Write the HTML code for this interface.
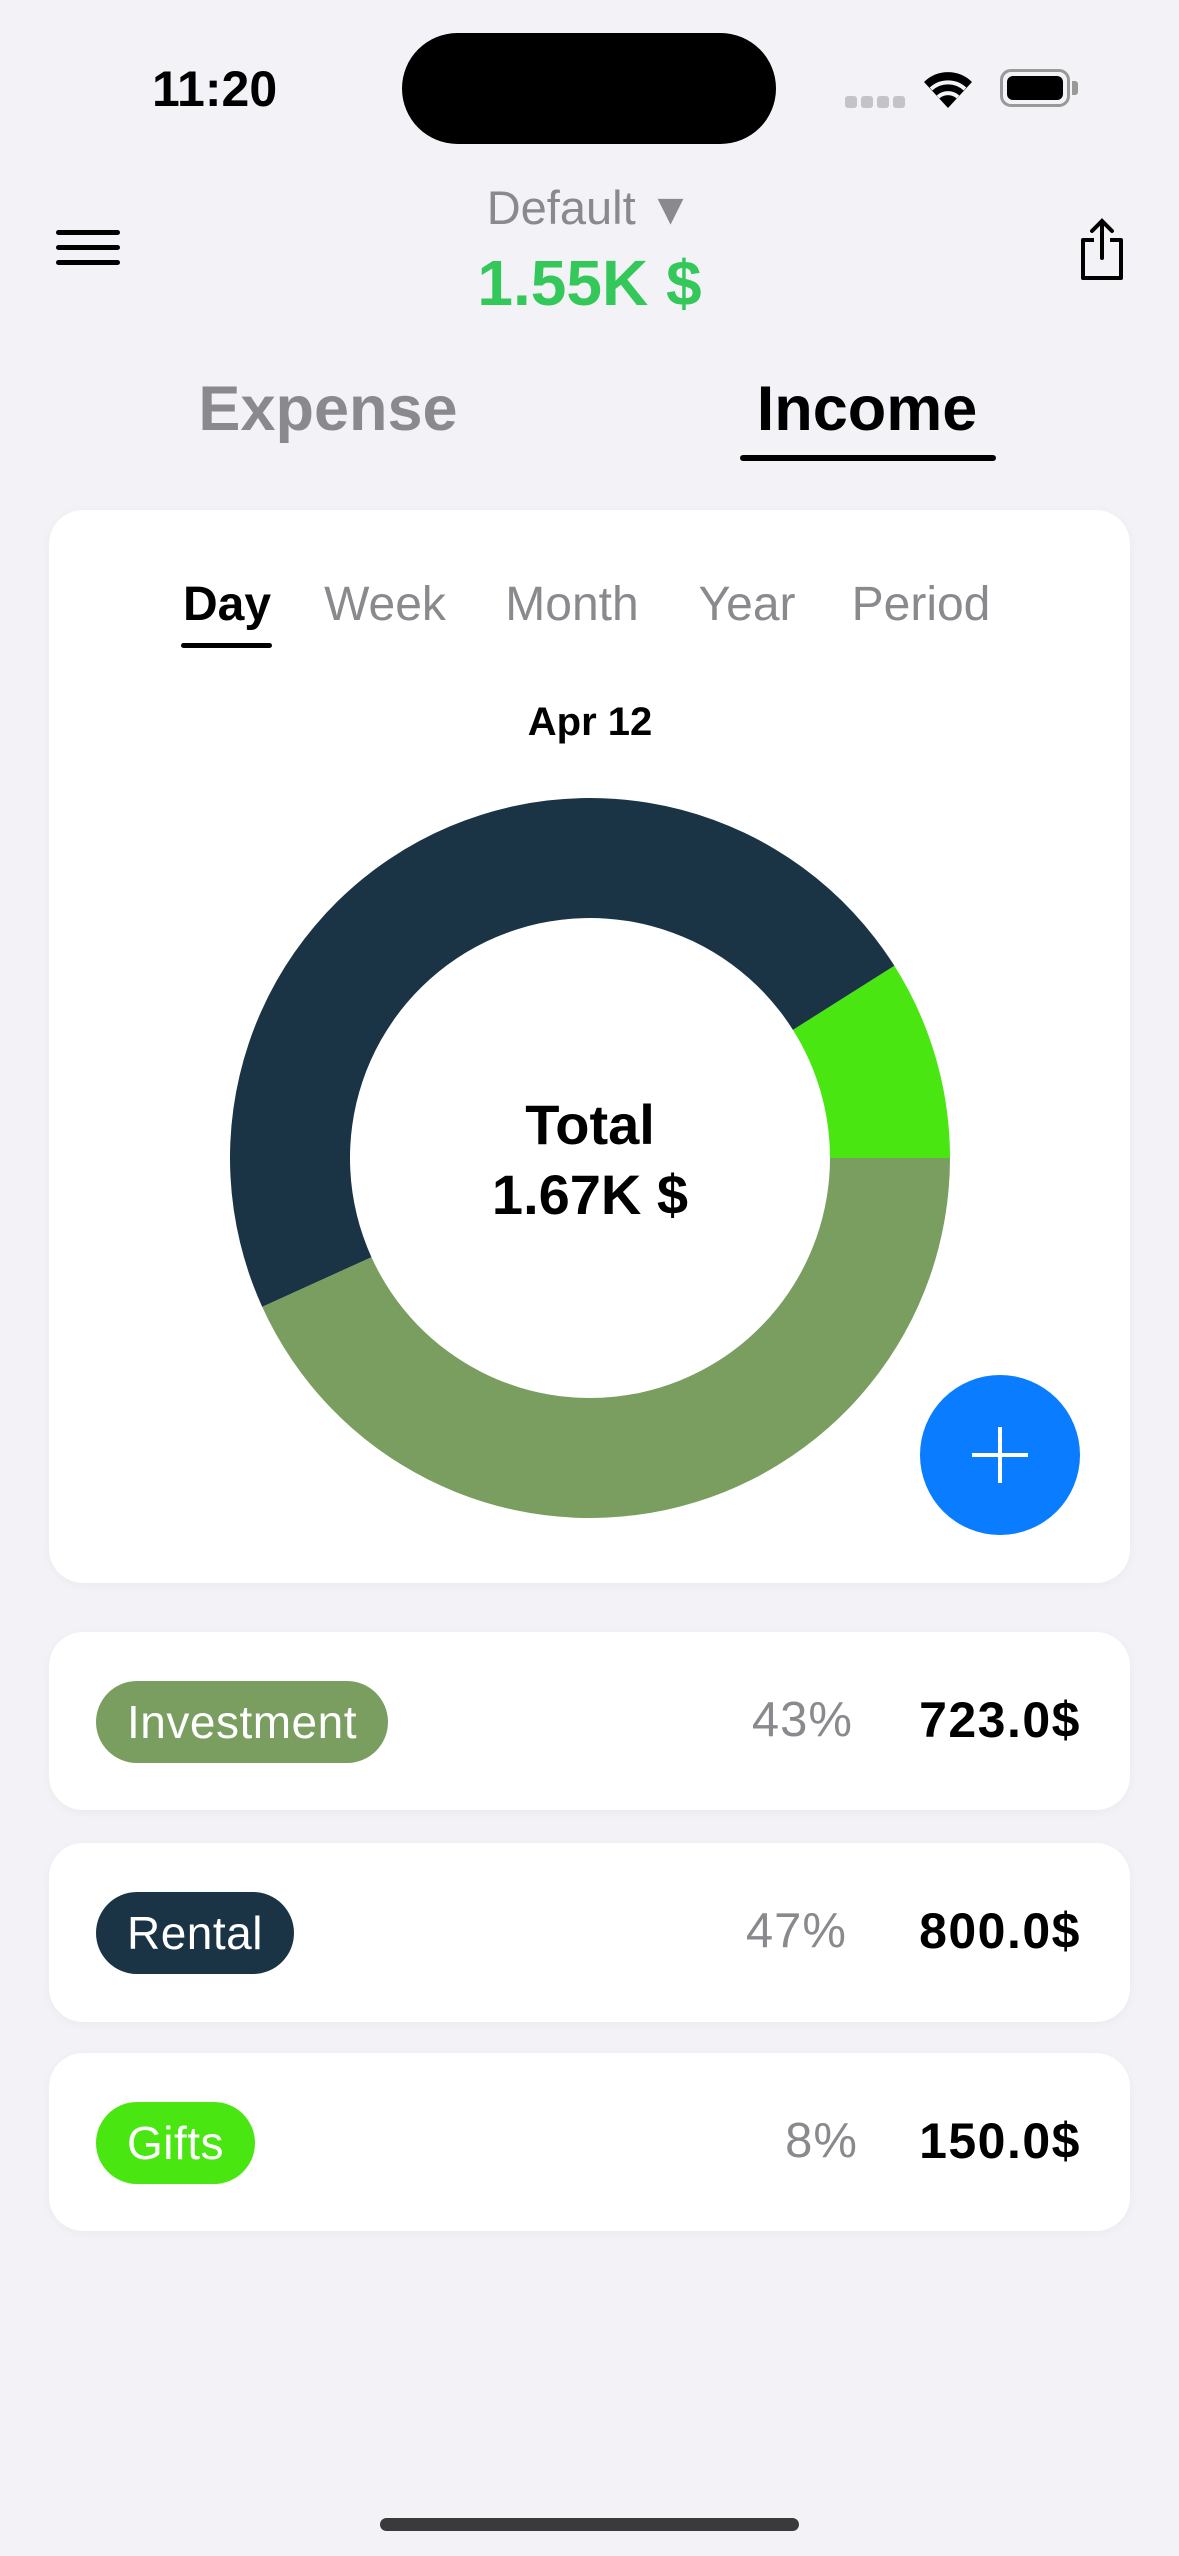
<!DOCTYPE html>
<html><head><meta charset="utf-8"><style>
*{box-sizing:border-box;margin:0;padding:0}
body{width:1179px;height:2556px;background:#f2f2f7;font-family:"Liberation Sans",sans-serif;position:relative;overflow:hidden}
.abs{position:absolute}
.card{position:absolute;left:49px;width:1081px;background:#fff;border-radius:34px;box-shadow:0 2px 10px rgba(0,0,0,0.04)}
.tab{position:absolute;top:577px;font-size:48px;color:#8a8a8e;transform:translateX(-50%);white-space:nowrap}
.pill{position:absolute;left:47px;top:49px;height:82px;border-radius:41px;color:#fff;font-size:46px;line-height:82px;padding:0 31px;letter-spacing:0.5px}
.pct{position:absolute;right:277px;top:60px;font-size:49px;color:#8a8a8e;letter-spacing:1px}
.amt{position:absolute;right:49px;top:59px;font-size:50px;font-weight:bold;color:#000;letter-spacing:1.5px}
</style></head><body>
<div class="abs" style="left:152px;top:60px;font-size:50px;font-weight:bold">11:20</div>
<div class="abs" style="left:402px;top:33px;width:374px;height:111px;background:#000;border-radius:56px"></div>
<div class="abs" style="left:845px;top:96px;width:60px;height:12px;display:flex;gap:4px"><i style="flex:1;background:#c4c4c8;border-radius:3px"></i><i style="flex:1;background:#c4c4c8;border-radius:3px"></i><i style="flex:1;background:#c4c4c8;border-radius:3px"></i><i style="flex:1;background:#c4c4c8;border-radius:3px"></i></div>
<svg class="abs" style="left:922px;top:68px" width="52" height="40" viewBox="0 0 52 40"><path d="M26 40 L2 14 A34 34 0 0 1 50 14 Z" fill="#000"/><path d="M9 21 A25 25 0 0 1 43 21" stroke="#f2f2f7" stroke-width="4" fill="none"/><path d="M16 29 A15 15 0 0 1 36 29" stroke="#f2f2f7" stroke-width="4" fill="none"/></svg>
<div class="abs" style="left:1000px;top:69px;width:70px;height:38px;border:3px solid #999;border-radius:11px;padding:4px"><div style="width:100%;height:100%;background:#000;border-radius:6px"></div></div>
<div class="abs" style="left:1072px;top:81px;width:6px;height:14px;background:#999;border-radius:0 3px 3px 0"></div>

<div class="abs" style="left:56px;top:230px;width:64px;height:36px">
<div style="height:5px;background:#000;border-radius:3px"></div><div style="height:5px;background:#000;border-radius:3px;margin-top:10px"></div><div style="height:5px;background:#000;border-radius:3px;margin-top:10px"></div></div>
<div class="abs" style="left:0;width:1179px;top:180px;text-align:center;font-size:47px;color:#8a8a8e">Default <span style="font-size:44px">▼</span></div>
<div class="abs" style="left:0;width:1179px;top:246px;text-align:center;font-size:64px;font-weight:bold;color:#34c759">1.55K $</div>
<svg class="abs" style="left:1077px;top:218px" width="50" height="62" viewBox="0 0 50 62"><path d="M17 22 H6 V60 H44 V22 H33" stroke="#000" stroke-width="4" fill="none" stroke-linejoin="round"/><path d="M25 40 V4 M15 13 L25 3 L35 13" stroke="#000" stroke-width="4" fill="none" stroke-linecap="round"/></svg>

<div class="abs" style="left:328px;top:373px;transform:translateX(-50%);font-size:63px;font-weight:bold;color:#8a8a8e">Expense</div>
<div class="abs" style="left:867px;top:373px;transform:translateX(-50%);font-size:63px;font-weight:bold;color:#000">Income</div>
<div class="abs" style="left:740px;top:455px;width:256px;height:6px;background:#000;border-radius:3px"></div>

<div class="card" style="top:510px;height:1073px"></div>
<div class="tab" style="left:227px;color:#000;font-weight:bold">Day</div>
<div class="abs" style="left:181px;top:643px;width:91px;height:5px;background:#000;border-radius:3px"></div>
<div class="tab" style="left:385px">Week</div>
<div class="tab" style="left:572px">Month</div>
<div class="tab" style="left:747px">Year</div>
<div class="tab" style="left:921px">Period</div>
<div class="abs" style="left:590px;top:700px;transform:translateX(-50%);font-size:40px;font-weight:bold">Apr 12</div>

<svg id="donut" class="abs" style="left:0;top:0" width="1179" height="1600"></svg>
<div class="abs" style="left:390px;width:400px;top:1090px;text-align:center;font-size:56px;font-weight:bold;line-height:70px">Total<br>1.67K $</div>

<div class="abs" style="left:920px;top:1375px;width:160px;height:160px;border-radius:50%;background:#0a7cff">
<div style="position:absolute;left:52px;top:78px;width:56px;height:4px;background:#fff"></div><div style="position:absolute;left:78px;top:52px;width:4px;height:56px;background:#fff"></div></div>

<div class="card" style="top:1632px;height:178px">
<div class="pill" style="background:#7a9e5f">Investment</div>
<div class="pct">43%</div>
<div class="amt">723.0$</div></div>
<div class="card" style="top:1843px;height:179px">
<div class="pill" style="background:#1b3445">Rental</div>
<div class="pct" style="right:283px">47%</div>
<div class="amt">800.0$</div></div>
<div class="card" style="top:2053px;height:178px">
<div class="pill" style="background:#4ae612">Gifts</div>
<div class="pct" style="right:272px">8%</div>
<div class="amt">150.0$</div></div>

<div class="abs" style="left:380px;top:2518px;width:419px;height:13px;background:#3a3a3c;border-radius:7px"></div>
<script>
const categories=['Gifts','Rental','Investment'];
const values=[150,800,723];
const colors=['#4ae612','#1b3445','#7a9e5f'];
const svg=document.getElementById('donut');
const cx=590,cy=1158,R=360,r=240;
const total=values.reduce((a,b)=>a+b,0);
let a0=0;
function pt(rad,ang){return [cx+rad*Math.cos(ang),cy-rad*Math.sin(ang)];}
values.forEach((v,i)=>{
  const a1=a0+v/total*2*Math.PI;
  const large=(a1-a0)>Math.PI?1:0;
  const [x0,y0]=pt(R,a0),[x1,y1]=pt(R,a1),[x2,y2]=pt(r,a1),[x3,y3]=pt(r,a0);
  const p=document.createElementNS('http://www.w3.org/2000/svg','path');
  p.setAttribute('d',`M${x0} ${y0} A${R} ${R} 0 ${large} 0 ${x1} ${y1} L${x2} ${y2} A${r} ${r} 0 ${large} 1 ${x3} ${y3} Z`);
  p.setAttribute('fill',colors[i]);
  
  
  svg.appendChild(p);
  a0=a1;
});
</script>
</body></html>
